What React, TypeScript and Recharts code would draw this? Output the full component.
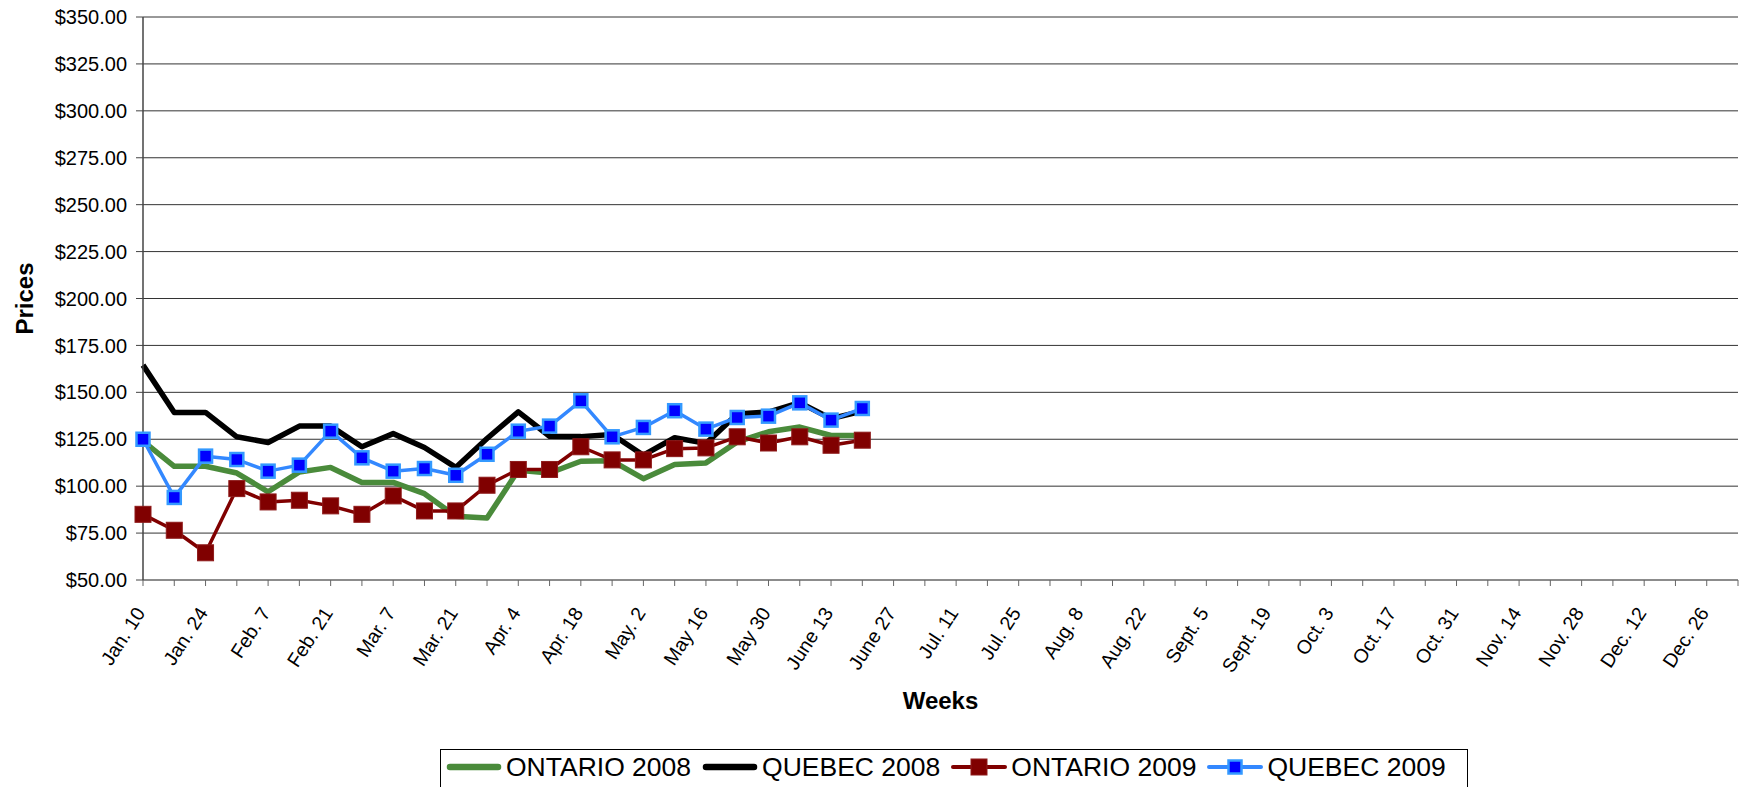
import React from 'react';
import { LineChart, Line, XAxis, YAxis, CartesianGrid } from 'recharts';

const weeks = [
  'Jan. 10', 'Jan. 17', 'Jan. 24', 'Jan. 31', 'Feb. 7', 'Feb. 14', 'Feb. 21', 'Feb. 28',
  'Mar. 7', 'Mar. 14', 'Mar. 21', 'Mar. 28', 'Apr. 4', 'Apr. 11', 'Apr. 18', 'Apr. 25',
  'May. 2', 'May 9', 'May 16', 'May 23', 'May 30', 'June 6', 'June 13', 'June 20',
  'June 27', 'Jul. 4', 'Jul. 11', 'Jul. 18', 'Jul. 25', 'Aug. 1', 'Aug. 8', 'Aug. 15',
  'Aug. 22', 'Aug. 29', 'Sept. 5', 'Sept. 12', 'Sept. 19', 'Sept. 26', 'Oct. 3', 'Oct. 10',
  'Oct. 17', 'Oct. 24', 'Oct. 31', 'Nov. 7', 'Nov. 14', 'Nov. 21', 'Nov. 28', 'Dec. 5',
  'Dec. 12', 'Dec. 19', 'Dec. 26', 'Jan. 2',
];

const ontario2008 = [124, 110.6, 110.6, 107, 97, 107.6, 110, 102, 102, 96, 84, 83, 108.5, 107, 113.3, 113.5, 104, 111.5, 112.4, 123.6, 129, 131.5, 127, 127];
const quebec2008 = [164.5, 139.3, 139.3, 126.3, 123.3, 132, 132, 121, 128, 120.6, 110, 125.4, 139.6, 126.6, 126.4, 127.5, 116.5, 125.8, 122.8, 138.5, 139.5, 144.5, 136, 140];
const ontario2009 = [85, 76.5, 64.5, 98.7, 91.6, 92.5, 89.5, 85, 94.8, 86.8, 86.8, 100.5, 108.9, 108.9, 121, 114, 114, 120, 120.4, 126.3, 123, 126.3, 121.8, 124.5];
const quebec2009 = [125, 94, 116, 114.2, 108, 111.2, 129.3, 115.1, 108, 109.4, 105.8, 117, 129.3, 132, 145.5, 126.3, 131.3, 140.2, 130.4, 136.6, 137.3, 144.4, 135.2, 141.4];

const yTicks = [50, 75, 100, 125, 150, 175, 200, 225, 250, 275, 300, 325, 350];

const seriesNames = ['ONTARIO 2008', 'QUEBEC 2008', 'ONTARIO 2009', 'QUEBEC 2009'];

const data = weeks.map((w, i) => ({
  week: w,
  on08: i < ontario2008.length ? ontario2008[i] : null,
  qc08: i < quebec2008.length ? quebec2008[i] : null,
  on09: i < ontario2009.length ? ontario2009[i] : null,
  qc09: i < quebec2009.length ? quebec2009[i] : null,
}));

const FONT = '"Liberation Sans", Arial, sans-serif';
const GREEN = '#4A8B3B';
const BLACK = '#000000';
const RED = '#800000';
const BLUE_LINE = '#3388FF';
const BLUE_FILL = '#0000FF';

const XTick = (props: any) => {
  const { x, y, payload } = props;
  const idx = weeks.indexOf(payload.value);
  if (idx % 2 !== 0) return <g />;
  const ax = x + 3;
  const ay = y + 25;
  return (
    <text
      x={ax}
      y={ay}
      textAnchor="end"
      fontSize={19.5}
      fontFamily={FONT}
      fill="#000"
      transform={`rotate(-57 ${ax} ${ay})`}
    >
      {payload.value}
    </text>
  );
};

const redDot = (props: any) => {
  const { cx, cy, index } = props;
  if (cx == null || cy == null) return <g key={`r${index}`} />;
  return <rect key={`r${index}`} x={cx - 8} y={cy - 8} width={16} height={16} fill={RED} stroke="#8E1A1A" strokeWidth={1} />;
};

const blueDot = (props: any) => {
  const { cx, cy, index } = props;
  if (cx == null || cy == null) return <g key={`b${index}`} />;
  return <rect key={`b${index}`} x={cx - 6.5} y={cy - 6.5} width={13} height={13} fill={BLUE_FILL} stroke="#3399FF" strokeWidth={2.5} />;
};

const LegendSample = ({ idx }: { idx: number }) => {
  return (
    <svg width={56} height={20} style={{ display: 'block' }}>
      {idx === 0 && <line x1={4} y1={10} x2={52} y2={10} stroke={GREEN} strokeWidth={6.5} strokeLinecap="round" />}
      {idx === 1 && <line x1={4} y1={10} x2={52} y2={10} stroke={BLACK} strokeWidth={6.5} strokeLinecap="round" />}
      {idx === 2 && (
        <g>
          <line x1={2} y1={10} x2={54} y2={10} stroke={RED} strokeWidth={4} strokeLinecap="round" />
          <rect x={20} y={2} width={16} height={16} fill={RED} stroke="#8E1A1A" strokeWidth={1} />
        </g>
      )}
      {idx === 3 && (
        <g>
          <line x1={2} y1={10} x2={54} y2={10} stroke={BLUE_LINE} strokeWidth={4} strokeLinecap="round" />
          <rect x={21.5} y={3.5} width={13} height={13} fill={BLUE_FILL} stroke="#3399FF" strokeWidth={2.5} />
        </g>
      )}
    </svg>
  );
};

export default function App() {
  return (
    <div style={{ position: 'fixed', left: 0, top: 0, width: 1739, height: 787, overflow: 'hidden', background: '#fff' }}>
      <LineChart width={1739} height={787} data={data} margin={{ top: 17, right: 1, bottom: 0, left: 0 }}>
        <CartesianGrid vertical={false} stroke="#333" strokeWidth={1} />
        <XAxis
          dataKey="week"
          scale="point"
          padding={{ left: 0, right: 0 }}
          interval={0}
          height={207}
          tick={<XTick />}
          tickSize={6}
          tickMargin={2}
          axisLine={{ stroke: '#888', strokeWidth: 1.5 }}
          tickLine={{ stroke: '#666' }}
          label={{
            content: (p: any) => {
              const vb = p.viewBox || { x: 143, y: 580, width: 1595 };
              return (
                <text x={vb.x + vb.width / 2} y={vb.y + 129} textAnchor="middle" fontSize={24} fontWeight="bold" fontFamily={FONT} fill="#000">
                  Weeks
                </text>
              );
            },
          }}
        />
        <YAxis
          domain={[50, 350]}
          ticks={yTicks}
          width={143}
          tickSize={7}
          tickMargin={9}
          tickFormatter={(v: number) => `$${v.toFixed(2)}`}
          tick={{ fontSize: 20, fontFamily: FONT, fill: '#000' }}
          axisLine={{ stroke: '#444', strokeWidth: 1.5 }}
          tickLine={{ stroke: '#444' }}
          label={{
            content: (p: any) => {
              const vb = p.viewBox || { x: 0, y: 17, height: 563 };
              const cx = vb.x + 33;
              const cy = vb.y + vb.height / 2;
              return (
                <text x={cx} y={cy} textAnchor="middle" fontSize={24} fontWeight="bold" fontFamily={FONT} fill="#000" transform={`rotate(-90 ${cx} ${cy})`}>
                  Prices
                </text>
              );
            },
          }}
        />
        <Line dataKey="on08" name={seriesNames[0]} stroke={GREEN} strokeWidth={5.5} dot={false} activeDot={false} isAnimationActive={false} strokeLinejoin="round" />
        <Line dataKey="qc08" name={seriesNames[1]} stroke={BLACK} strokeWidth={5.5} dot={false} activeDot={false} isAnimationActive={false} strokeLinejoin="round" />
        <Line dataKey="on09" name={seriesNames[2]} stroke={RED} strokeWidth={3.5} dot={redDot} activeDot={false} isAnimationActive={false} strokeLinejoin="round" />
        <Line dataKey="qc09" name={seriesNames[3]} stroke={BLUE_LINE} strokeWidth={3.5} dot={blueDot} activeDot={false} isAnimationActive={false} strokeLinejoin="round" />
      </LineChart>
      <div
        style={{
          position: 'absolute',
          left: 440,
          top: 749,
          width: 1028,
          height: 40,
          border: '1px solid #000',
          boxSizing: 'border-box',
          display: 'flex',
          alignItems: 'center',
          paddingLeft: 5,
          paddingBottom: 4,
          fontFamily: FONT,
          fontSize: 26.5,
          color: '#000',
          whiteSpace: 'nowrap',
        }}
      >
        {seriesNames.map((n, i) => (
          <div key={n} style={{ display: 'flex', alignItems: 'center', marginRight: 11 }}>
            <LegendSample idx={i} />
            <span style={{ marginLeft: 4, lineHeight: '26px' }}>{n}</span>
          </div>
        ))}
      </div>
    </div>
  );
}
